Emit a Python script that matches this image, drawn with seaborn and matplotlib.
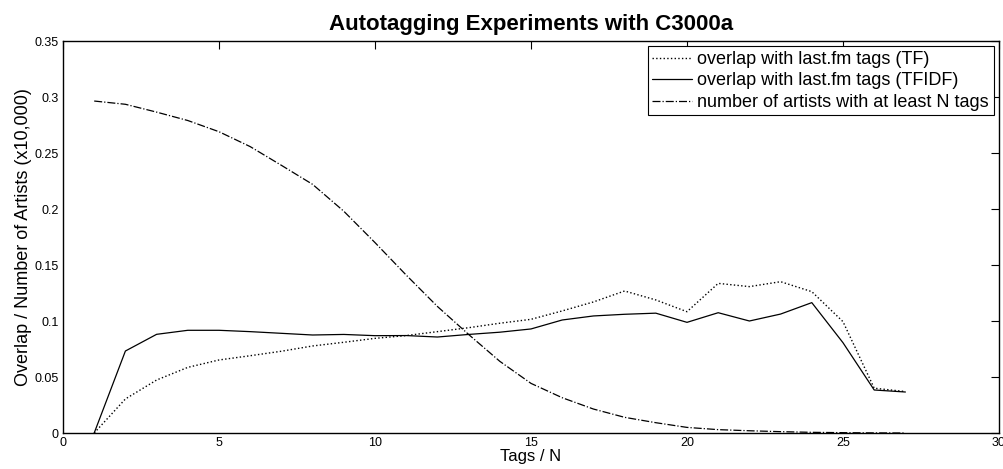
import numpy as np
import pandas as pd
import matplotlib
matplotlib.use("Agg")
import matplotlib.pyplot as plt
import seaborn as sns

tags_n = list(range(1, 28))
overlap_tf = [0.0, 0.0304, 0.0473, 0.0586, 0.0652, 0.069, 0.073, 0.0777, 0.081, 0.0845,
              0.087, 0.0905, 0.094, 0.098, 0.1015, 0.109, 0.117, 0.1268, 0.1188, 0.1083,
              0.1336, 0.1307, 0.1351, 0.1262, 0.0994, 0.040, 0.037]
overlap_tfidf = [0.0, 0.0732, 0.0881, 0.0917, 0.0917, 0.0905, 0.089, 0.0875, 0.088, 0.0869,
                 0.087, 0.0857, 0.088, 0.090, 0.0929, 0.1009, 0.1045, 0.106, 0.107, 0.0988,
                 0.1074, 0.1000, 0.1062, 0.1164, 0.0806, 0.0384, 0.0366]
num_artists = [0.2964, 0.2935, 0.2865, 0.279, 0.269, 0.2557, 0.239, 0.222, 0.198, 0.170,
               0.141, 0.113, 0.088, 0.064, 0.0443, 0.0315, 0.0214, 0.014, 0.0092, 0.005,
               0.003, 0.002, 0.0012, 0.0006, 0.0003, 0.0001, 0.0]

labels = ["overlap with last.fm tags (TF)",
          "overlap with last.fm tags (TFIDF)",
          "number of artists with at least N tags"]
title = "Autotagging Experiments with C3000a"
xlabel = "Tags / N"
ylabel = "Overlap / Number of Artists (x10,000)"
xticks = [0, 5, 10, 15, 20, 25, 30]
yticks = [0, 0.05, 0.1, 0.15, 0.2, 0.25, 0.3, 0.35]
ytick_labels = ["0", "0.05", "0.1", "0.15", "0.2", "0.25", "0.3", "0.35"]

sns.set_style("white")
plt.rcParams['font.family'] = ['Liberation Sans', 'DejaVu Sans']
plt.rcParams['text.color'] = 'black'
plt.rcParams['axes.labelcolor'] = 'black'
plt.rcParams['xtick.color'] = 'black'
plt.rcParams['ytick.color'] = 'black'

fig = plt.figure(figsize=(10.04, 4.69), dpi=100)
ax = fig.add_axes([63/1004, 36/469, 936/1004, 392/469])

styles = [":", "-", "-."]
widths = [1.0, 0.9, 0.9]
for vals, lab, ls, lw in zip([overlap_tf, overlap_tfidf, num_artists], labels, styles, widths):
    sns.lineplot(x=tags_n, y=vals, ax=ax, color="black", linestyle=ls, linewidth=lw, label=lab)

ax.set_xlim(0, 30)
ax.set_ylim(0, 0.35)
ax.set_xticks(xticks)
ax.set_xticklabels([str(t) for t in xticks])
ax.set_yticks(yticks)
ax.set_yticklabels(ytick_labels)
ax.tick_params(direction="in", length=6, width=0.8, top=True, right=True,
               labelsize=9, colors="black", pad=3)
for s in ax.spines.values():
    s.set_visible(True)
    s.set_color("black")
    s.set_linewidth(1.0)

ax.set_xlabel(xlabel, fontsize=12, labelpad=0, color="black")
ax.set_ylabel(ylabel, fontsize=13, labelpad=2, color="black")
ax.set_title(title, fontsize=16, fontweight="bold", pad=8, color="black")

leg = ax.legend(loc="upper right", fontsize=13, frameon=True, fancybox=False,
                edgecolor="black", framealpha=1, handlelength=2.2, handletextpad=0.3,
                borderpad=0.25, labelspacing=0.25, borderaxespad=0.3)
leg.get_frame().set_linewidth(0.8)
for t in leg.get_texts():
    t.set_color("black")

fig.savefig("out.png", dpi=100)
